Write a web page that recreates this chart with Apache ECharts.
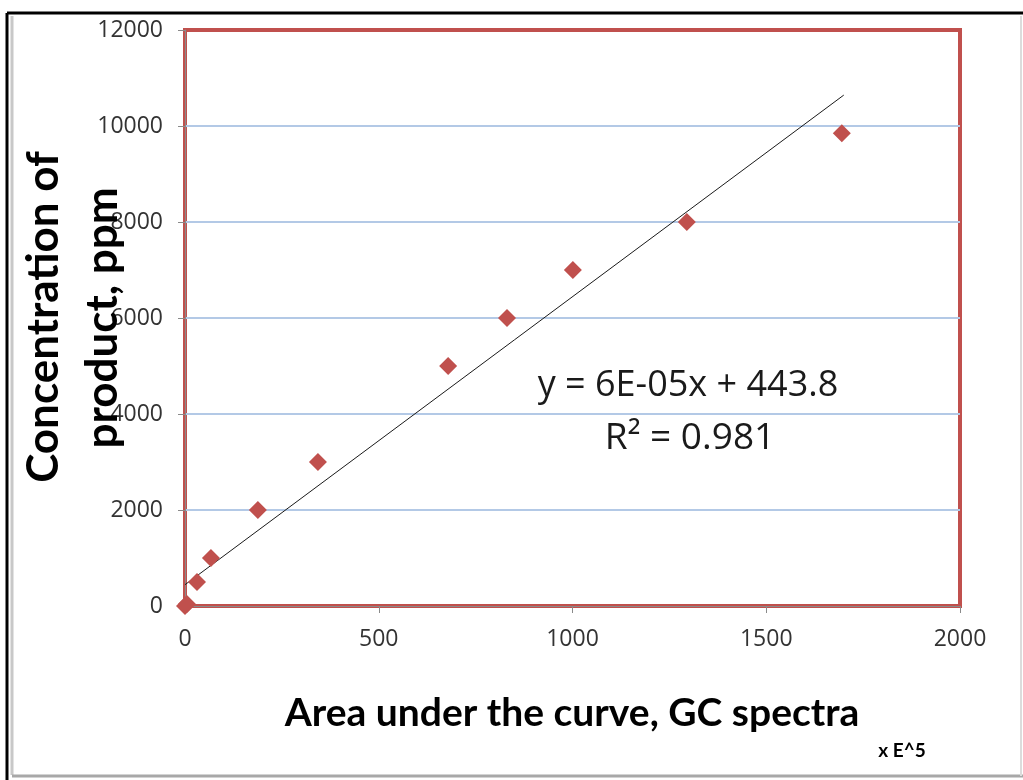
<!DOCTYPE html>
<html>
<head>
<meta charset="utf-8">
<script src="https://cdn.jsdelivr.net/npm/echarts@6/dist/echarts.min.js"></script>
<style>
html,body{margin:0;padding:0;background:#fff;}
#chart{width:1023px;height:780px;}
</style>
</head>
<body>
<div id="chart"></div>
<script>
// Data (x in units of E^5)
const areaValues = [0, 5, 31, 67, 188, 343, 679, 831, 1001, 1295, 1695];
const concValues = [0, 40, 500, 1000, 2000, 3000, 5000, 6000, 7000, 8000, 9850];
// Trend line endpoints (y = 6E-05x + 443.8 on the original scale)
const trendX = [0, 1700];
const trendY = [443.8, 10643.8];
const xTicks = [0, 500, 1000, 1500, 2000];
const yTicks = [0, 2000, 4000, 6000, 8000, 10000, 12000];
const xTitle = 'Area under the curve, GC spectra';
const yTitleLines = ['Concentration of', 'product, ppm'];
const eqText = 'y = 6E-05x + 443.8';
const r2Text = 'R² = 0.981';
const unitText = 'x E^5';

const chart = echarts.init(document.getElementById('chart'), null, {renderer: 'canvas'});
const pts = areaValues.map((x, i) => [x, concValues[i]]);
const trend = trendX.map((x, i) => [x, trendY[i]]);

const labelFont = {fontFamily: 'Open Sans', fontSize: 23, color: '#333', formatter: v => String(v)};

chart.setOption({
  animation: false,
  backgroundColor: '#fff',
  grid: {
    left: 185, top: 30, width: 775, height: 576,
    show: true, borderColor: '#C0504D', borderWidth: 4, backgroundColor: 'transparent'
  },
  xAxis: {
    type: 'value', min: xTicks[0], max: xTicks[xTicks.length - 1], interval: 500,
    axisLine: {show: true, onZero: false, lineStyle: {color: '#8a8a8a', width: 1}},
    axisTick: {show: true, length: 7, lineStyle: {color: '#8a8a8a'}},
    splitLine: {show: false},
    axisLabel: Object.assign({margin: 22}, labelFont)
  },
  yAxis: {
    type: 'value', min: yTicks[0], max: yTicks[yTicks.length - 1], interval: 2000,
    axisLine: {show: true, onZero: false, lineStyle: {color: '#8a8a8a', width: 1}},
    axisTick: {show: true, length: 7, lineStyle: {color: '#8a8a8a'}},
    splitLine: {show: true, showMinLine: false, showMaxLine: false, lineStyle: {color: '#B3C9E6', width: 2}},
    axisLabel: Object.assign({margin: 22}, labelFont)
  },
  series: [
    {
      type: 'line', data: trend, showSymbol: false, symbol: 'none',
      lineStyle: {color: '#1a1a1a', width: 1}, z: 3, silent: true
    },
    {
      type: 'scatter', data: pts, symbol: 'diamond', symbolSize: 18,
      itemStyle: {color: '#C0504D', opacity: 1}, z: 4
    }
  ],
  graphic: [
    // outer frame
    {type: 'line', shape: {x1: 7, y1: 13, x2: 1023, y2: 13}, style: {stroke: '#000', lineWidth: 3}, z: 10},
    {type: 'line', shape: {x1: 7, y1: 13, x2: 7, y2: 780}, style: {stroke: '#000', lineWidth: 3}, z: 10},
    {type: 'line', shape: {x1: 12, y1: 16, x2: 12, y2: 775}, style: {stroke: '#c8c8c8', lineWidth: 3}, z: 10},
    {type: 'line', shape: {x1: 12, y1: 776, x2: 1023, y2: 776}, style: {stroke: '#a8a8a8', lineWidth: 3}, z: 10},
    {type: 'line', shape: {x1: 1021, y1: 16, x2: 1021, y2: 776}, style: {stroke: '#dcdcdc', lineWidth: 2}, z: 10},
    // y title (two rotated lines)
    {type: 'text', x: 44, y: 317, rotation: Math.PI / 2, z: 20,
      style: {text: yTitleLines[0], fontFamily: 'Lato', fontWeight: 'bold', fontSize: 44, fill: '#000', textAlign: 'center', textVerticalAlign: 'middle'}},
    {type: 'text', x: 103, y: 318, rotation: Math.PI / 2, z: 20,
      style: {text: yTitleLines[1], fontFamily: 'Lato', fontWeight: 'bold', fontSize: 44, fill: '#000', textAlign: 'center', textVerticalAlign: 'middle'}},
    // x title
    {type: 'text', x: 572, y: 713, z: 20,
      style: {text: xTitle, fontFamily: 'Lato', fontWeight: 'bold', fontSize: 39, fill: '#000', textAlign: 'center', textVerticalAlign: 'middle'}},
    {type: 'text', x: 902, y: 751, z: 20,
      style: {text: unitText, fontFamily: 'Lato', fontWeight: 'bold', fontSize: 19, fill: '#000', textAlign: 'center', textVerticalAlign: 'middle'}},
    // equation
    {type: 'text', x: 688, y: 386, z: 20,
      style: {text: eqText, fontFamily: 'Open Sans', fontSize: 36, fill: '#1a1a1a', textAlign: 'center', textVerticalAlign: 'middle'}},
    {type: 'text', x: 690, y: 438, z: 20,
      style: {text: r2Text, fontFamily: 'Open Sans', fontSize: 37, fill: '#1a1a1a', textAlign: 'center', textVerticalAlign: 'middle'}}
  ]
});
</script>
</body>
</html>
